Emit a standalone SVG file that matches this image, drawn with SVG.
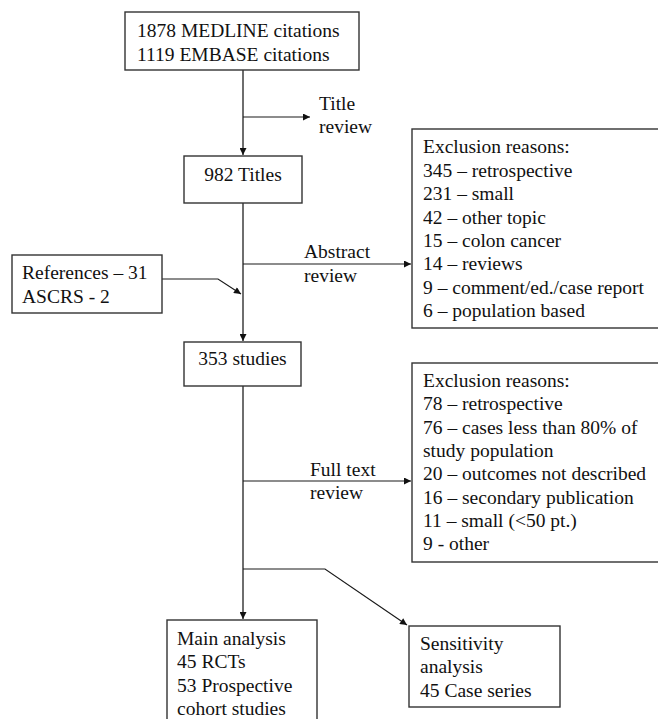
<svg xmlns="http://www.w3.org/2000/svg" width="658" height="719" viewBox="0 0 658 719">
<defs>
<marker id="ah" viewBox="0 0 10 10" refX="10" refY="5" markerWidth="9" markerHeight="7" markerUnits="userSpaceOnUse" orient="auto">
<path d="M0,0 L10,5 L0,10 z" fill="#111"/>
</marker>
<style>
text{font-family:"Liberation Serif",Tinos,"Times New Roman","DejaVu Serif",serif;font-size:19.5px;fill:#111}
.box{fill:#fff;stroke:#333;stroke-width:1.4}
.trunk{stroke:#6e6e6e;stroke-width:2;fill:none}
.ln{stroke:#1a1a1a;stroke-width:1.2;fill:none}
</style>
</defs>
<rect width="658" height="719" fill="#fff"/>
<g id="connectors">
<line class="trunk" x1="243" y1="70" x2="243" y2="155" marker-end="url(#ah)"/>
<line class="trunk" x1="243" y1="203" x2="243" y2="341" marker-end="url(#ah)"/>
<line class="trunk" x1="243" y1="386" x2="243" y2="619" marker-end="url(#ah)"/>
<line class="ln" x1="243" y1="117" x2="310" y2="117" marker-end="url(#ah)"/>
<line class="ln" x1="243" y1="264" x2="411" y2="264" marker-end="url(#ah)"/>
<polyline class="ln" points="162,279 218,279 241,294" marker-end="url(#ah)"/>
<line class="ln" x1="243" y1="481" x2="411" y2="481" marker-end="url(#ah)"/>
<polyline class="ln" points="243,569 325,569 407,625" marker-end="url(#ah)"/>
<text x="319" y="110" font-family="Liberation Serif, serif">Title</text>
<text x="319" y="133" font-family="Liberation Serif, serif">review</text>
<text x="304" y="258" font-family="Liberation Serif, serif">Abstract</text>
<text x="304" y="282" font-family="Liberation Serif, serif">review</text>
<text x="310" y="476" font-family="Liberation Serif, serif">Full text</text>
<text x="310" y="499" font-family="Liberation Serif, serif">review</text>
</g>
<g id="citations">
<rect class="box" x="125" y="12" width="234" height="58"/>
<text x="137" y="37">1878 MEDLINE citations</text>
<text x="137" y="61">1119 EMBASE citations</text>
</g>
<g id="titles">
<rect class="box" x="184" y="156" width="118" height="47"/>
<text x="243" y="181" text-anchor="middle">982 Titles</text>
</g>
<g id="exclusion1">
<rect class="box" x="412" y="129" width="260" height="199"/>
<text x="423" y="153">Exclusion reasons:</text>
<text x="423" y="177">345 – retrospective</text>
<text x="423" y="200">231 – small</text>
<text x="423" y="223.5">42 – other topic</text>
<text x="423" y="247">15 – colon cancer</text>
<text x="423" y="270">14 – reviews</text>
<text x="423" y="293.5">9 – comment/ed./case report</text>
<text x="423" y="317">6 – population based</text>
</g>
<g id="references">
<rect class="box" x="12" y="255" width="150" height="58"/>
<text x="22" y="279">References – 31</text>
<text x="22" y="303">ASCRS - 2</text>
</g>
<g id="studies">
<rect class="box" x="184" y="342" width="117" height="44"/>
<text x="242.5" y="365" text-anchor="middle">353 studies</text>
</g>
<g id="exclusion2">
<rect class="box" x="412" y="363" width="260" height="199"/>
<text x="423" y="387">Exclusion reasons:</text>
<text x="423" y="410">78 – retrospective</text>
<text x="423" y="433.5">76 – cases less than 80% of</text>
<text x="423" y="457">study population</text>
<text x="423" y="480">20 – outcomes not described</text>
<text x="423" y="503.5">16 – secondary publication</text>
<text x="423" y="527">11 – small (&lt;50 pt.)</text>
<text x="423" y="550">9 - other</text>
</g>
<g id="main">
<rect class="box" x="167" y="620" width="150" height="110"/>
<text x="177" y="645">Main analysis</text>
<text x="177" y="668">45 RCTs</text>
<text x="177" y="692">53 Prospective</text>
<text x="177" y="715">cohort studies</text>
</g>
<g id="sensitivity">
<rect class="box" x="409" y="626" width="151" height="81"/>
<text x="420" y="650">Sensitivity</text>
<text x="420" y="673">analysis</text>
<text x="420" y="697">45 Case series</text>
</g>
</svg>
